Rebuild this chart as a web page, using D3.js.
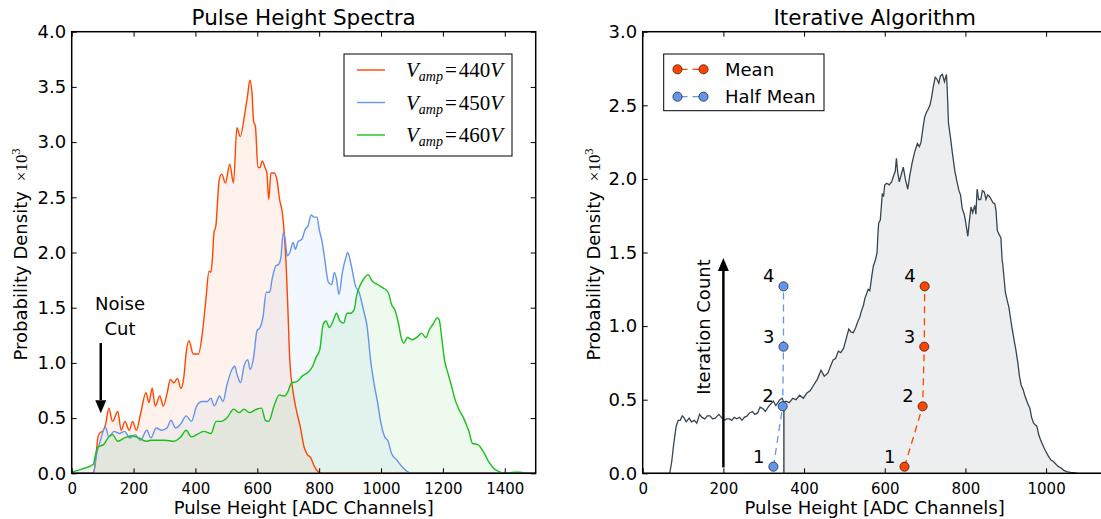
<!DOCTYPE html>
<html>
<head>
<meta charset="utf-8">
<script src="https://cdn.jsdelivr.net/npm/d3@7"></script>
<style>
  body { margin: 0; background: #fff; }
  svg text { font-family: "DejaVu Sans", sans-serif; fill: #000; }
  svg .math { font-family: "Liberation Serif", "DejaVu Serif", serif; }
</style>
</head>
<body>
<svg id="chart" width="1101" height="519"></svg>
<script>
// ---- left panel: pulse height spectra (probability density x10^3) ----
const red440X = [0, 70, 78, 85, 92, 100, 110, 120, 132, 149, 160, 172, 186, 197, 209, 222, 240, 250, 260, 270, 285, 296, 308, 319, 330, 342, 353, 362, 370, 379, 393, 410, 421, 433, 444, 450, 455, 460, 466, 477, 485, 497, 511, 523, 534, 545, 559, 568, 576, 583, 588, 594, 602, 609, 616, 625, 631, 637, 644, 655, 664, 672, 681, 687, 693, 699, 705, 716, 728, 739, 751, 762, 773, 785, 796, 810, 1500];
const red440Y = [0, 0, 0.15, 0.33, 0.37, 0.38, 0.45, 0.59, 0.47, 0.56, 0.39, 0.47, 0.39, 0.47, 0.39, 0.53, 0.73, 0.64, 0.77, 0.61, 0.70, 0.61, 0.72, 0.85, 0.82, 0.86, 0.77, 0.86, 1.09, 1.20, 1.08, 1.08, 1.24, 1.55, 1.83, 1.82, 1.95, 2.18, 2.24, 2.66, 2.71, 2.63, 2.80, 2.63, 3.13, 3.05, 3.25, 3.41, 3.56, 3.44, 3.19, 3.14, 2.77, 2.77, 2.83, 2.77, 2.72, 2.48, 2.72, 2.72, 2.65, 2.48, 2.36, 2.18, 1.90, 1.48, 1.03, 0.73, 0.55, 0.42, 0.24, 0.17, 0.14, 0.06, 0.015, 0, 0];

const blue450X = [0, 70, 81, 92, 109, 120, 137, 154, 171, 188, 205, 222, 243, 256, 273, 291, 308, 321, 336, 353, 370, 387, 404, 421, 438, 450, 461, 478, 489, 501, 518, 527, 535, 546, 557, 569, 577, 588, 599, 609, 618, 629, 640, 648, 660, 668, 676, 684, 690, 697, 705, 716, 723, 732, 744, 755, 764, 774, 783, 793, 800, 810, 818, 830, 841, 849, 856, 864, 875, 887, 892, 904, 917, 929, 944, 955, 966, 977, 989, 1000, 1012, 1023, 1034, 1051, 1068, 1085, 1100, 1500];
const blue450Y = [0, 0, 0.18, 0.29, 0.42, 0.33, 0.38, 0.36, 0.38, 0.32, 0.35, 0.30, 0.39, 0.32, 0.41, 0.39, 0.41, 0.48, 0.41, 0.45, 0.52, 0.47, 0.61, 0.65, 0.65, 0.68, 0.61, 0.70, 0.65, 0.79, 0.94, 0.97, 0.89, 0.82, 0.97, 1.03, 0.94, 1.05, 1.29, 1.32, 1.41, 1.64, 1.64, 1.76, 1.88, 1.89, 1.95, 2.18, 2.12, 1.97, 2.00, 2.09, 2.03, 2.10, 2.12, 2.21, 2.24, 2.34, 2.32, 2.32, 2.21, 2.09, 1.94, 1.73, 1.71, 1.82, 1.76, 1.62, 1.82, 1.96, 2.00, 1.88, 1.70, 1.64, 1.47, 1.33, 1.03, 0.82, 0.64, 0.45, 0.33, 0.29, 0.18, 0.12, 0.06, 0.015, 0, 0];

const green460X = [0, 35, 69, 78, 86, 103, 120, 132, 149, 171, 194, 217, 240, 256, 279, 302, 330, 353, 370, 387, 404, 427, 450, 467, 484, 501, 524, 541, 557, 575, 597, 614, 626, 637, 654, 671, 688, 699, 711, 728, 745, 762, 779, 790, 802, 813, 822, 833, 845, 856, 867, 879, 890, 901, 913, 921, 932, 944, 958, 972, 989, 1006, 1023, 1034, 1046, 1057, 1065, 1074, 1085, 1102, 1119, 1131, 1145, 1156, 1168, 1182, 1188, 1197, 1205, 1216, 1228, 1239, 1250, 1267, 1284, 1296, 1313, 1330, 1347, 1364, 1381, 1400, 1430, 1450, 1470, 1500];
const green460Y = [0.01, 0.04, 0.08, 0.18, 0.24, 0.26, 0.33, 0.35, 0.29, 0.32, 0.34, 0.32, 0.29, 0.30, 0.30, 0.30, 0.29, 0.33, 0.39, 0.33, 0.35, 0.38, 0.36, 0.47, 0.47, 0.50, 0.58, 0.55, 0.58, 0.55, 0.58, 0.59, 0.48, 0.47, 0.61, 0.71, 0.70, 0.74, 0.82, 0.83, 0.88, 0.91, 0.97, 1.05, 1.12, 1.35, 1.38, 1.32, 1.38, 1.45, 1.38, 1.36, 1.45, 1.45, 1.48, 1.61, 1.70, 1.76, 1.80, 1.74, 1.71, 1.68, 1.64, 1.53, 1.47, 1.35, 1.23, 1.18, 1.23, 1.21, 1.24, 1.27, 1.23, 1.30, 1.35, 1.41, 1.39, 1.21, 1.03, 0.91, 0.79, 0.67, 0.59, 0.50, 0.38, 0.27, 0.26, 0.20, 0.11, 0.045, 0.015, 0, 0.01, 0.01, 0, 0];

const spectraLabels = ["440", "450", "460"];
const spectraColors = ["#ff4500", "#6495ed", "#19c019"];

// ---- right panel: iterative algorithm ----
const specX = [0, 67, 72, 76, 83, 88, 93, 98, 102, 108, 115, 121, 128, 134, 141, 147, 154, 160, 167, 173, 180, 185, 189, 195, 202, 208, 215, 221, 227, 233, 240, 246, 252, 259, 265, 272, 278, 285, 291, 298, 304, 311, 317, 324, 330, 335, 340, 346, 350, 355, 363, 372, 380, 389, 398, 407, 415, 424, 433, 442, 450, 459, 466, 472, 478, 485, 491, 498, 505, 511, 516, 522, 528, 533, 538, 542, 547, 551, 555, 559, 563, 566, 569, 572, 577, 581, 583, 585, 589, 594, 597, 600, 605, 611, 617, 623, 626, 629, 632, 636, 641, 646, 651, 657, 662, 668, 674, 681, 686, 690, 695, 699, 703, 707, 712, 716, 720, 725, 729, 734, 738, 743, 748, 753, 755, 758, 763, 768, 774, 780, 784, 788, 792, 797, 801, 806, 810, 814, 818, 823, 826, 829, 833, 838, 842, 847, 851, 855, 860, 864, 868, 873, 876, 879, 884, 888, 891, 893, 899, 904, 908, 912, 916, 921, 925, 930, 934, 938, 943, 947, 951, 955, 960, 964, 969, 973, 977, 982, 986, 992, 999, 1005, 1012, 1018, 1025, 1031, 1038, 1044, 1051, 1060, 1069, 1080, 1150];
const specY = [0, 0, 0.08, 0.18, 0.32, 0.36, 0.36, 0.39, 0.38, 0.35, 0.375, 0.35, 0.36, 0.34, 0.40, 0.38, 0.37, 0.39, 0.39, 0.37, 0.375, 0.39, 0.40, 0.38, 0.36, 0.37, 0.37, 0.36, 0.38, 0.37, 0.38, 0.36, 0.38, 0.39, 0.41, 0.42, 0.40, 0.41, 0.45, 0.44, 0.42, 0.45, 0.47, 0.49, 0.46, 0.48, 0.50, 0.51, 0.48, 0.49, 0.48, 0.51, 0.50, 0.53, 0.51, 0.545, 0.56, 0.60, 0.64, 0.70, 0.66, 0.68, 0.73, 0.77, 0.78, 0.83, 0.82, 0.85, 0.92, 0.98, 0.96, 0.955, 0.99, 1.03, 1.06, 1.10, 1.14, 1.19, 1.22, 1.25, 1.24, 1.30, 1.36, 1.41, 1.45, 1.50, 1.62, 1.70, 1.72, 1.90, 1.88, 1.96, 1.97, 1.96, 1.98, 2.03, 2.05, 2.14, 2.05, 1.98, 2.03, 2.08, 2.00, 1.93, 2.02, 2.11, 2.18, 2.24, 2.22, 2.25, 2.35, 2.42, 2.45, 2.47, 2.50, 2.55, 2.62, 2.69, 2.68, 2.65, 2.70, 2.71, 2.66, 2.71, 2.60, 2.38, 2.28, 2.17, 2.05, 1.97, 1.92, 1.89, 1.80, 1.76, 1.70, 1.61, 1.72, 1.81, 1.77, 1.82, 1.76, 1.93, 1.86, 1.86, 1.92, 1.91, 1.86, 1.89, 1.88, 1.86, 1.84, 1.83, 1.78, 1.65, 1.62, 1.60, 1.45, 1.41, 1.23, 1.17, 1.125, 1.05, 0.98, 0.90, 0.84, 0.75, 0.66, 0.60, 0.57, 0.53, 0.50, 0.47, 0.44, 0.38, 0.34, 0.33, 0.32, 0.26, 0.23, 0.19, 0.15, 0.12, 0.09, 0.08, 0.06, 0.045, 0.034, 0.02, 0.011, 0.006, 0.005, 0, 0];

const iterSteps = ["1", "2", "3", "4"];
const iterLevel = [0.045, 0.455, 0.86, 1.27];
const meanX = [649, 694, 698, 699];
const halfMeanX = [324, 347, 349, 349];
const halfMeanFinal = 350;

const xTicksLeft = [0, 200, 400, 600, 800, 1000, 1200, 1400];
const yTicksLeft = [0, 0.5, 1, 1.5, 2, 2.5, 3, 3.5, 4];
const xTicksRight = [0, 200, 400, 600, 800, 1000];
const yTicksRight = [0, 0.5, 1, 1.5, 2, 2.5, 3];

// ---------------------------------------------------------------------
const svg = d3.select("#chart");
const zip = (xs, ys) => xs.map((x, i) => ({ x, y: ys[i] }));

function makePanel({ left, right, top, bottom, xDomain, yDomain }) {
  return {
    x: d3.scaleLinear().domain(xDomain).range([left, right]),
    y: d3.scaleLinear().domain(yDomain).range([bottom, top]),
    left, right, top, bottom,
  };
}

function drawAxes(p, xTicks, yTicks) {
  const g = svg.append("g").attr("class", "axes");
  g.append("g")
    .attr("transform", `translate(0,${p.bottom})`)
    .call(d3.axisBottom(p.x).tickValues(xTicks).tickSizeInner(-5).tickSizeOuter(0)
      .tickPadding(10.5).tickFormat(d3.format("d")))
    .call((a) => a.selectAll("text").style("font-size", "15px"));
  g.append("g")
    .attr("transform", `translate(0,${p.top})`)
    .call(d3.axisTop(p.x).tickValues(xTicks).tickSizeInner(-5).tickSizeOuter(0).tickFormat(""));
  g.append("g")
    .attr("transform", `translate(${p.left},0)`)
    .call(d3.axisLeft(p.y).tickValues(yTicks).tickSizeInner(-5).tickSizeOuter(0)
      .tickPadding(5.5).tickFormat(d3.format(".1f")))
    .call((a) => a.selectAll("text").style("font-size", "18px"));
  g.append("g")
    .attr("transform", `translate(${p.right},0)`)
    .call(d3.axisRight(p.y).tickValues(yTicks).tickSizeInner(-5).tickSizeOuter(0).tickFormat(""));
  g.selectAll(".domain").remove();
  g.selectAll(".tick line").attr("stroke", "#000");
  g.selectAll(".tick text").attr("fill", "#000").style("font-family", "DejaVu Sans");

  svg.append("rect")
    .attr("x", p.left).attr("y", p.top)
    .attr("width", p.right - p.left).attr("height", p.bottom - p.top)
    .attr("fill", "none").attr("stroke", "#000").attr("stroke-width", 1.5);
}

function drawLabels(p, title, labelX, titleY) {
  svg.append("text")
    .attr("x", (p.left + p.right) / 2).attr("y", titleY)
    .attr("text-anchor", "middle").style("font-size", "21.5px").text(title);
  svg.append("text")
    .attr("x", (p.left + p.right) / 2).attr("y", 514)
    .attr("text-anchor", "middle").style("font-size", "18px")
    .text("Pulse Height [ADC Channels]");
  const yl = svg.append("text")
    .attr("transform", `translate(${labelX},254.5) rotate(-90)`)
    .attr("text-anchor", "middle")
    .attr("font-size", 18);
  yl.append("tspan").attr("font-size", 18).text("Probability Density");
  yl.append("tspan").attr("class", "math").attr("dx", 10)
    .attr("font-size", 17).style("font-size", "17px").text("×10");
  yl.append("tspan").attr("class", "math").attr("dy", -7)
    .attr("font-size", 12).style("font-size", "12px").text("3");
}

function arrow(x, y1, y2) {
  // shaft from y1 to tip at y2
  const dir = Math.sign(y2 - y1);
  const head = 13;
  svg.append("line")
    .attr("x1", x).attr("x2", x).attr("y1", y1).attr("y2", y2 - dir * head)
    .attr("stroke", "#000").attr("stroke-width", 2.5);
  svg.append("path")
    .attr("d", `M${x - 5.5},${y2 - dir * head}L${x + 5.5},${y2 - dir * head}L${x},${y2}Z`)
    .attr("fill", "#000");
}

// ---- left panel ----
const pL = makePanel({ left: 71.7, right: 535.7, top: 31.7, bottom: 473.3, xDomain: [0, 1500], yDomain: [0, 4] });
const spectra = [zip(red440X, red440Y), zip(blue450X, blue450Y), zip(green460X, green460Y)];

const areaL = d3.area().curve(d3.curveMonotoneX)
  .x((d) => pL.x(d.x)).y0(pL.y(0)).y1((d) => pL.y(d.y));
const lineL = d3.line().curve(d3.curveMonotoneX)
  .x((d) => pL.x(d.x)).y((d) => pL.y(d.y));

svg.append("g").selectAll("path").data(spectra).join("path")
  .attr("d", areaL).attr("fill", (d, i) => spectraColors[i]).attr("fill-opacity", 0.075);
svg.append("g").selectAll("path").data(spectra).join("path")
  .attr("d", lineL).attr("fill", "none")
  .attr("stroke", (d, i) => spectraColors[i]).attr("stroke-width", 1.4);

drawAxes(pL, xTicksLeft, yTicksLeft);
drawLabels(pL, "Pulse Height Spectra", 26.5, 25);

// noise cut annotation
arrow(pL.x(94), pL.y(1.18), pL.y(0.545));
svg.append("text").attr("x", 120).attr("y", 310).attr("text-anchor", "middle")
  .style("font-size", "18px").text("Noise");
svg.append("text").attr("x", 120).attr("y", 335).attr("text-anchor", "middle")
  .style("font-size", "18px").text("Cut");

// legend
const legL = svg.append("g");
legL.append("rect").attr("x", 344).attr("y", 54).attr("width", 168).attr("height", 102)
  .attr("fill", "#fff").attr("stroke", "#000").attr("stroke-width", 1);
spectraLabels.forEach((lab, i) => {
  const cy = 70 + i * 32.5;
  legL.append("line").attr("x1", 357).attr("x2", 385).attr("y1", cy).attr("y2", cy)
    .attr("stroke", spectraColors[i]).attr("stroke-width", 1.4);
  const t = legL.append("text").attr("class", "math").attr("x", 406).attr("y", cy + 7)
    .style("font-size", "21px");
  t.append("tspan").style("font-style", "italic").text("V");
  t.append("tspan").style("font-style", "italic").style("font-size", "14px").attr("dy", 4).text("amp");
  t.append("tspan").attr("dy", -4).attr("dx", 2).text("=");
  t.append("tspan").attr("dx", 2).text(lab);
  t.append("tspan").style("font-style", "italic").text("V");
});

// ---- right panel ----
const pR = makePanel({ left: 642.7, right: 1106.6, top: 31.7, bottom: 473.3, xDomain: [0, 1150], yDomain: [0, 3] });
const spec = zip(specX, specY);
const specColor = "#36454f";

const lineR = d3.line().x((d) => pR.x(d.x)).y((d) => pR.y(d.y));
const areaR = d3.area().x((d) => pR.x(d.x)).y0(pR.y(0)).y1((d) => pR.y(d.y));

const cutY = specY[specX.indexOf(halfMeanFinal)];
const tail = [{ x: halfMeanFinal, y: cutY }, ...spec.filter((d) => d.x > halfMeanFinal)];

svg.append("defs").append("clipPath").attr("id", "clip-r")
  .append("rect").attr("x", pR.left).attr("y", pR.top)
  .attr("width", pR.right - pR.left).attr("height", pR.bottom - pR.top);

const gR = svg.append("g").attr("clip-path", "url(#clip-r)");
gR.append("path").datum(tail).attr("d", areaR)
  .attr("fill", specColor).attr("fill-opacity", 0.09);
gR.append("line")
  .attr("x1", pR.x(halfMeanFinal)).attr("x2", pR.x(halfMeanFinal))
  .attr("y1", pR.y(0)).attr("y2", pR.y(cutY))
  .attr("stroke", specColor).attr("stroke-width", 1.4);
gR.append("path").datum(spec).attr("d", lineR)
  .attr("fill", "none").attr("stroke", specColor).attr("stroke-width", 1.3);

drawAxes(pR, xTicksRight, yTicksRight);
drawLabels(pR, "Iterative Algorithm", 599.5, 24.5);

// iteration count arrow
arrow(pR.x(200), pR.y(0.04), pR.y(1.463));
svg.append("text")
  .attr("transform", `translate(710,327) rotate(-90)`)
  .attr("text-anchor", "middle").style("font-size", "18px").text("Iteration Count");

const iterSeries = [
  { xs: halfMeanX, color: "#6495ed" },
  { xs: meanX, color: "#ff4500" },
];
iterSeries.forEach((s) => {
  const pts = zip(s.xs, iterLevel);
  svg.append("path").datum(pts)
    .attr("d", d3.line().x((d) => pR.x(d.x)).y((d) => pR.y(d.y)))
    .attr("fill", "none").attr("stroke", s.color).attr("stroke-width", 1.3)
    .attr("stroke-dasharray", "7,5");
  svg.append("g").selectAll("circle").data(pts).join("circle")
    .attr("cx", (d) => pR.x(d.x)).attr("cy", (d) => pR.y(d.y)).attr("r", 4.6)
    .attr("fill", s.color).attr("stroke", "#000").attr("stroke-width", 0.6);
  svg.append("g").selectAll("text").data(pts).join("text")
    .attr("x", (d) => pR.x(d.x) - 9).attr("y", (d) => pR.y(d.y) - 4)
    .attr("text-anchor", "end").style("font-size", "18px")
    .text((d, i) => iterSteps[i]);
});

// legend
const legR = svg.append("g");
legR.append("rect").attr("x", 663.7).attr("y", 54).attr("width", 160.3).attr("height", 56.7)
  .attr("fill", "#fff").attr("stroke", "#000").attr("stroke-width", 1);
[{ name: "Mean", color: "#ff4500" }, { name: "Half Mean", color: "#6495ed" }].forEach((e, i) => {
  const cy = 69.3 + i * 27.4;
  legR.append("line").attr("x1", 677.5).attr("x2", 703.5).attr("y1", cy).attr("y2", cy)
    .attr("stroke", e.color).attr("stroke-width", 1.3).attr("stroke-dasharray", "7,5")
    .attr("stroke-dashoffset", -3);
  [677.5, 703.5].forEach((cx) => legR.append("circle").attr("cx", cx).attr("cy", cy).attr("r", 4.6)
    .attr("fill", e.color).attr("stroke", "#000").attr("stroke-width", 0.6));
  legR.append("text").attr("x", 725).attr("y", cy + 6.5).style("font-size", "18px").text(e.name);
});
</script>
</body>
</html>
